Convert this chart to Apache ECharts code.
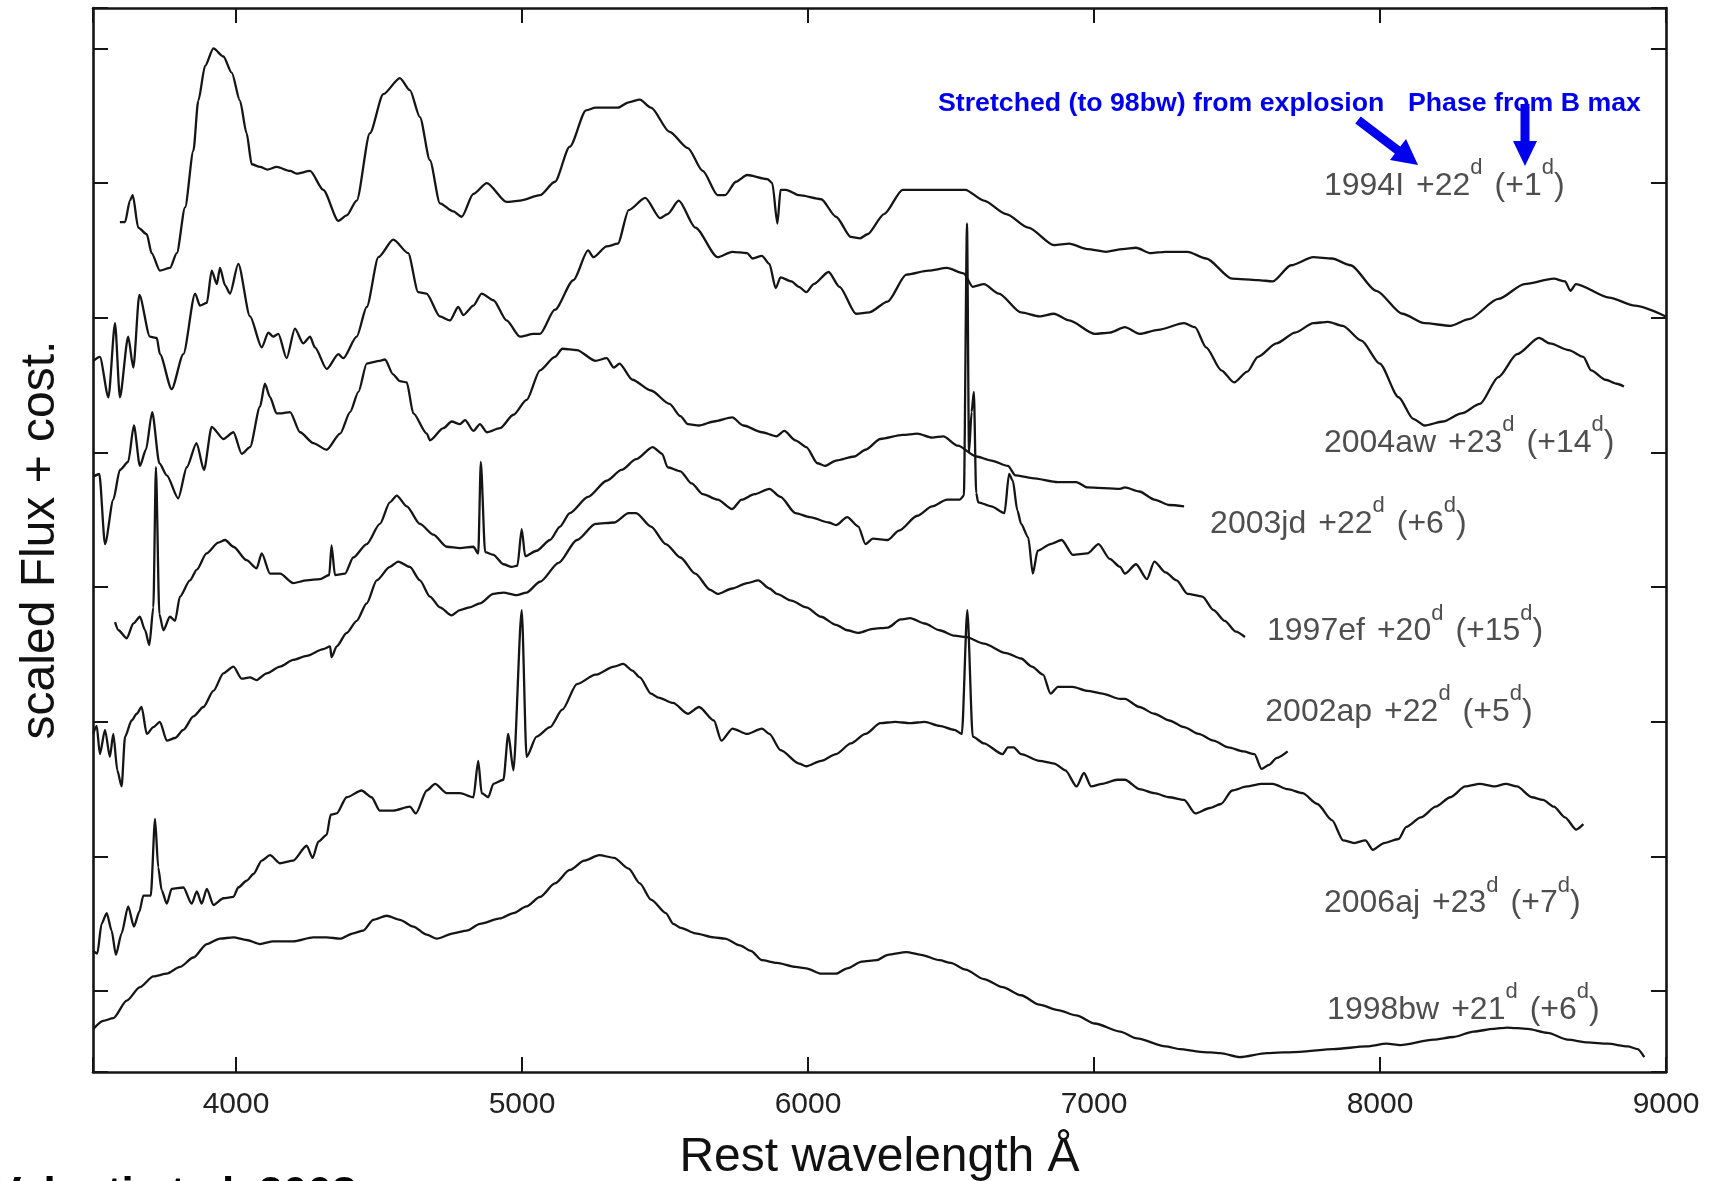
<!DOCTYPE html>
<html>
<head>
<meta charset="utf-8">
<script src="https://cdn.jsdelivr.net/npm/echarts@6/dist/echarts.min.js"></script>
<style>
html,body{margin:0;padding:0;background:#fff;}
#chart{width:1719px;height:1181px;}
</style>
</head>
<body>
<div id="chart"></div>
<script>
// ---- spectra: [rest wavelength (Å), scaled flux + constant] ----
const sn1994I = [[3594,5.71],[3612,5.71],[3629,5.87],[3639,5.91],[3658,5.67],[3688,5.62],[3705,5.48],[3734,5.35],[3769,5.37],[3793,5.48],[3822,5.82],[3851,6.24],[3868,6.61],[3892,6.87],[3921,7.0],[3956,6.94],[3985,6.82],[4014,6.61],[4037,6.37],[4055,6.14],[4084,6.12],[4110,6.10],[4142,6.12],[4189,6.09],[4212,6.07],[4259,6.09],[4305,5.95],[4358,5.72],[4387,5.76],[4422,5.87],[4468,6.37],[4515,6.66],[4573,6.78],[4608,6.69],[4643,6.49],[4678,6.17],[4713,5.85],[4760,5.79],[4789,5.75],[4830,5.92],[4877,6.0],[4946,5.86],[4993,5.87],[5063,5.91],[5115,6.01],[5167,6.27],[5224,6.54],[5257,6.56],[5335,6.56],[5373,6.60],[5412,6.62],[5451,6.56],[5516,6.38],[5580,6.26],[5632,6.09],[5684,5.91],[5710,5.91],[5748,6.01],[5787,6.06],[5858,6.03],[5875,6.0],[5893,5.70],[5904,5.95],[5923,5.95],[5969,5.91],[6046,5.88],[6098,5.75],[6150,5.60],[6182,5.59],[6208,5.62],[6266,5.77],[6331,5.95],[6421,5.95],[6550,5.95],[6615,5.87],[6693,5.77],[6770,5.67],[6860,5.54],[6913,5.55],[6977,5.51],[7042,5.49],[7100,5.51],[7147,5.52],[7198,5.48],[7250,5.49],[7327,5.49],[7392,5.44],[7483,5.29],[7573,5.28],[7625,5.27],[7689,5.39],[7767,5.45],[7832,5.44],[7897,5.39],[7987,5.20],[8078,5.03],[8156,4.96],[8246,4.94],[8311,4.99],[8414,5.14],[8505,5.25],[8608,5.29],[8647,5.27],[8666,5.20],[8685,5.25],[8801,5.15],[8891,5.09],[8999,5.01]];

const sn2004aw = [[3501,4.68],[3524,4.71],[3554,4.41],[3577,4.96],[3594,4.41],[3623,4.86],[3641,4.63],[3662,5.17],[3699,4.86],[3723,4.85],[3734,4.73],[3775,4.47],[3816,4.73],[3857,5.18],[3874,5.09],[3898,5.11],[3915,5.35],[3933,5.25],[3944,5.37],[3962,5.24],[3979,5.18],[4008,5.40],[4049,5.01],[4090,4.78],[4113,4.89],[4130,4.86],[4148,4.88],[4177,4.70],[4206,4.92],[4235,4.81],[4259,4.86],[4276,4.78],[4317,4.62],[4358,4.73],[4375,4.70],[4422,4.86],[4457,5.08],[4498,5.45],[4550,5.58],[4602,5.48],[4637,5.19],[4666,5.18],[4713,5.01],[4748,4.98],[4777,5.08],[4795,5.02],[4830,5.09],[4859,5.18],[4900,5.13],[4946,4.98],[4993,4.86],[5040,4.88],[5063,4.88],[5115,5.06],[5180,5.28],[5231,5.50],[5250,5.45],[5296,5.53],[5335,5.55],[5373,5.80],[5431,5.89],[5483,5.74],[5509,5.77],[5548,5.87],[5606,5.67],[5684,5.45],[5735,5.49],[5787,5.48],[5806,5.44],[5839,5.46],[5865,5.40],[5887,5.22],[5904,5.30],[5942,5.27],[5968,5.23],[5994,5.19],[6020,5.25],[6072,5.34],[6110,5.23],[6168,5.03],[6214,5.04],[6278,5.12],[6344,5.32],[6421,5.35],[6486,5.37],[6544,5.33],[6576,5.23],[6615,5.25],[6667,5.18],[6745,5.04],[6809,5.01],[6860,5.03],[6913,4.98],[7003,4.88],[7055,4.89],[7108,4.93],[7160,4.88],[7224,4.91],[7315,4.96],[7353,4.93],[7392,4.78],[7445,4.61],[7490,4.52],[7536,4.60],[7573,4.71],[7638,4.81],[7703,4.89],[7767,4.96],[7818,4.97],[7870,4.94],[7935,4.83],[7999,4.66],[8065,4.41],[8116,4.25],[8156,4.20],[8220,4.23],[8285,4.29],[8349,4.36],[8414,4.56],[8479,4.73],[8556,4.85],[8594,4.81],[8660,4.76],[8711,4.71],[8738,4.61],[8789,4.54],[8828,4.51],[8853,4.49]];

const sn2003jd = [[3501,3.82],[3522,3.84],[3542,3.32],[3571,3.65],[3594,3.87],[3623,3.93],[3643,4.20],[3664,3.90],[3685,4.02],[3707,4.30],[3732,3.92],[3758,3.83],[3798,3.66],[3828,3.89],[3862,4.07],[3888,3.87],[3915,4.19],[3956,4.10],[3991,4.15],[4020,3.99],[4049,4.04],[4084,4.34],[4101,4.51],[4119,4.41],[4142,4.29],[4159,4.29],[4189,4.30],[4224,4.15],[4270,4.07],[4317,4.02],[4364,4.14],[4399,4.30],[4428,4.45],[4457,4.66],[4503,4.68],[4521,4.69],[4549,4.58],[4573,4.53],[4597,4.52],[4620,4.29],[4667,4.14],[4678,4.09],[4725,4.18],[4754,4.23],[4783,4.21],[4801,4.24],[4830,4.16],[4853,4.21],[4877,4.15],[4923,4.18],[4970,4.28],[5016,4.39],[5063,4.61],[5115,4.71],[5141,4.77],[5192,4.76],[5257,4.68],[5296,4.70],[5321,4.63],[5341,4.66],[5386,4.54],[5451,4.46],[5516,4.36],[5554,4.27],[5580,4.21],[5619,4.20],[5671,4.23],[5735,4.26],[5774,4.20],[5839,4.15],[5890,4.12],[5917,4.16],[5956,4.09],[5994,4.04],[6033,3.92],[6059,3.90],[6098,3.94],[6162,3.97],[6201,4.02],[6253,4.10],[6331,4.13],[6382,4.14],[6434,4.11],[6473,4.12],[6524,4.05],[6589,3.97],[6641,3.94],[6699,3.90],[6725,3.83],[6783,3.81],[6874,3.78],[6938,3.78],[6977,3.74],[7091,3.73],[7108,3.74],[7159,3.71],[7211,3.65],[7263,3.61],[7315,3.60]];

const sn1997ef = [[3577,2.74],[3589,2.68],[3618,2.62],[3641,2.73],[3664,2.78],[3682,2.68],[3697,2.57],[3711,2.85],[3720,3.89],[3732,2.80],[3746,2.68],[3769,2.78],[3787,2.75],[3804,2.93],[3839,3.05],[3863,3.13],[3897,3.25],[3938,3.33],[3962,3.35],[3991,3.30],[4037,3.20],[4072,3.14],[4090,3.25],[4119,3.10],[4154,3.10],[4200,3.03],[4247,3.05],[4294,3.06],[4326,3.09],[4334,3.31],[4346,3.09],[4381,3.10],[4410,3.22],[4457,3.32],[4503,3.47],[4538,3.63],[4562,3.68],[4597,3.60],[4643,3.47],[4690,3.39],[4737,3.30],[4783,3.29],[4830,3.30],[4847,3.25],[4856,3.93],[4871,3.26],[4900,3.24],[4935,3.17],[4964,3.15],[4984,3.16],[4999,3.43],[5011,3.23],[5051,3.27],[5098,3.35],[5133,3.45],[5167,3.55],[5231,3.67],[5296,3.79],[5348,3.87],[5399,3.95],[5457,4.04],[5490,3.99],[5509,3.89],[5554,3.86],[5593,3.77],[5632,3.69],[5684,3.65],[5735,3.58],[5768,3.65],[5813,3.69],[5865,3.73],[5904,3.67],[5956,3.55],[6007,3.52],[6072,3.48],[6098,3.46],[6137,3.52],[6176,3.45],[6201,3.32],[6227,3.36],[6279,3.35],[6318,3.42],[6382,3.53],[6434,3.60],[6486,3.65],[6531,3.65],[6545,3.68],[6556,5.70],[6563,4.0],[6572,4.3],[6580,4.45],[6588,3.7],[6595,3.63],[6641,3.60],[6687,3.55],[6703,3.84],[6716,3.79],[6732,3.57],[6745,3.47],[6770,3.37],[6786,3.10],[6803,3.27],[6848,3.32],[6887,3.35],[6926,3.24],[6977,3.25],[7016,3.32],[7055,3.21],[7091,3.15],[7108,3.10],[7147,3.17],[7185,3.06],[7211,3.19],[7250,3.11],[7289,3.05],[7327,2.95],[7379,2.93],[7418,2.83],[7457,2.75],[7496,2.67],[7528,2.63]];

const sn2002ap = [[3501,1.91],[3513,1.97],[3524,1.76],[3542,1.94],[3559,1.74],[3571,1.91],[3585,1.64],[3600,1.52],[3612,1.89],[3635,2.01],[3653,2.06],[3670,2.11],[3688,1.91],[3711,1.96],[3734,2.00],[3758,1.86],[3787,1.88],[3816,1.94],[3851,2.04],[3886,2.11],[3921,2.23],[3956,2.36],[3991,2.41],[4020,2.32],[4049,2.33],[4072,2.31],[4107,2.36],[4154,2.41],[4200,2.46],[4247,2.49],[4305,2.54],[4329,2.56],[4334,2.48],[4352,2.56],[4387,2.66],[4422,2.75],[4457,2.88],[4492,3.05],[4538,3.15],[4567,3.19],[4608,3.15],[4643,3.05],[4678,2.93],[4713,2.85],[4754,2.79],[4783,2.83],[4818,2.85],[4853,2.88],[4900,2.95],[4935,2.96],[4981,2.94],[5016,2.96],[5063,3.04],[5128,3.18],[5192,3.35],[5257,3.47],[5322,3.48],[5373,3.55],[5399,3.55],[5451,3.45],[5503,3.32],[5554,3.22],[5606,3.10],[5658,2.98],[5684,2.95],[5735,2.99],[5787,3.03],[5826,3.05],[5865,2.99],[5891,2.95],[5942,2.90],[5994,2.85],[6046,2.78],[6098,2.72],[6137,2.68],[6176,2.66],[6227,2.69],[6279,2.70],[6324,2.76],[6357,2.77],[6408,2.73],[6460,2.68],[6512,2.64],[6551,2.63],[6615,2.58],[6693,2.51],[6745,2.47],[6783,2.41],[6822,2.35],[6848,2.21],[6874,2.26],[6925,2.26],[6977,2.23],[7029,2.21],[7091,2.17],[7108,2.17],[7159,2.11],[7211,2.06],[7263,2.01],[7315,1.96],[7366,1.91],[7418,1.86],[7470,1.81],[7522,1.78],[7561,1.76],[7586,1.65],[7612,1.68],[7638,1.73],[7677,1.78]];

const sn2006aj = [[3501,0.30],[3515,0.28],[3530,0.50],[3548,0.58],[3565,0.45],[3580,0.27],[3600,0.43],[3623,0.63],[3643,0.48],[3662,0.59],[3676,0.71],[3702,0.71],[3717,1.28],[3728,0.92],[3740,0.75],[3758,0.65],[3775,0.76],[3816,0.77],[3845,0.65],[3863,0.74],[3880,0.65],[3898,0.76],[3921,0.64],[3956,0.69],[3991,0.70],[4008,0.77],[4037,0.82],[4061,0.87],[4090,0.97],[4119,1.01],[4154,0.95],[4200,0.97],[4247,1.08],[4268,0.99],[4288,1.11],[4317,1.16],[4331,1.31],[4352,1.32],[4387,1.44],[4439,1.49],[4474,1.44],[4503,1.34],[4550,1.34],[4608,1.37],[4629,1.32],[4667,1.49],[4696,1.54],[4737,1.47],[4783,1.47],[4830,1.44],[4847,1.71],[4859,1.47],[4882,1.44],[4900,1.54],[4935,1.57],[4952,1.91],[4970,1.64],[4999,2.83],[5016,1.74],[5051,1.89],[5098,1.96],[5141,2.09],[5192,2.28],[5257,2.35],[5322,2.41],[5354,2.43],[5386,2.38],[5412,2.33],[5451,2.21],[5477,2.18],[5528,2.14],[5580,2.06],[5619,2.11],[5671,2.01],[5697,1.86],[5736,1.95],[5787,1.91],[5839,1.95],[5865,1.91],[5904,1.79],[5969,1.69],[5994,1.67],[6046,1.71],[6098,1.76],[6150,1.84],[6201,1.91],[6253,1.99],[6305,2.00],[6357,1.99],[6408,2.00],[6460,1.97],[6512,1.94],[6538,1.91],[6557,2.83],[6576,1.89],[6615,1.84],[6680,1.76],[6699,1.81],[6719,1.81],[6745,1.76],[6809,1.71],[6861,1.69],[6900,1.64],[6939,1.52],[6965,1.62],[6990,1.52],[7029,1.54],[7081,1.57],[7108,1.57],[7159,1.50],[7211,1.47],[7263,1.44],[7315,1.42],[7354,1.32],[7405,1.36],[7444,1.39],[7483,1.49],[7535,1.52],[7586,1.54],[7625,1.54],[7677,1.50],[7729,1.47],[7781,1.39],[7832,1.27],[7871,1.12],[7910,1.10],[7949,1.12],[7975,1.05],[8014,1.10],[8065,1.13],[8092,1.22],[8143,1.29],[8195,1.37],[8246,1.44],[8298,1.52],[8349,1.54],[8401,1.52],[8440,1.54],[8479,1.52],[8531,1.44],[8570,1.42],[8608,1.37],[8647,1.29],[8686,1.20],[8711,1.24]];

const sn1998bw = [[3501,-0.28],[3536,-0.22],[3571,-0.20],[3618,-0.07],[3664,0.03],[3711,0.11],[3758,0.13],[3804,0.18],[3851,0.25],[3898,0.35],[3944,0.39],[3991,0.40],[4037,0.38],[4084,0.35],[4130,0.37],[4200,0.37],[4270,0.40],[4317,0.40],[4364,0.39],[4410,0.43],[4445,0.45],[4480,0.53],[4527,0.56],[4573,0.53],[4620,0.48],[4667,0.42],[4702,0.39],[4760,0.43],[4807,0.45],[4853,0.50],[4923,0.54],[4970,0.58],[5016,0.63],[5063,0.70],[5115,0.80],[5167,0.90],[5218,0.97],[5270,1.01],[5322,0.99],[5373,0.91],[5412,0.80],[5451,0.68],[5503,0.58],[5529,0.50],[5555,0.47],[5606,0.43],[5671,0.40],[5710,0.39],[5762,0.34],[5800,0.30],[5839,0.23],[5891,0.21],[5956,0.18],[5994,0.17],[6046,0.13],[6098,0.13],[6137,0.17],[6188,0.22],[6240,0.23],[6279,0.27],[6344,0.29],[6395,0.27],[6460,0.23],[6499,0.21],[6551,0.16],[6615,0.09],[6680,0.03],[6745,-0.03],[6809,-0.10],[6874,-0.14],[6938,-0.18],[7003,-0.24],[7091,-0.30],[7150,-0.35],[7250,-0.41],[7300,-0.43],[7371,-0.45],[7441,-0.46],[7510,-0.49],[7604,-0.46],[7720,-0.45],[7837,-0.43],[7953,-0.41],[8023,-0.39],[8071,-0.40],[8187,-0.36],[8257,-0.34],[8327,-0.30],[8397,-0.28],[8445,-0.27],[8516,-0.28],[8586,-0.31],[8656,-0.36],[8726,-0.38],[8796,-0.39],[8866,-0.41],[8901,-0.43],[8924,-0.49]];

// ---- labels ----
const snNames    = ['1994I', '2004aw', '2003jd', '1997ef', '2002ap', '2006aj', '1998bw'];
const stretchDay = ['+22', '+23', '+22', '+20', '+22', '+23', '+21'];
const phaseDay   = ['+1', '+14', '+6', '+15', '+5', '+7', '+6'];
const labelAt    = [[7804,5.98],[7804,4.07],[7406,3.47],[7605,2.67],[7599,2.07],[7804,0.65],[7815,-0.14]];

const xTicks = [4000, 5000, 6000, 7000, 8000, 9000];

const spectra = [sn1994I, sn2004aw, sn2003jd, sn1997ef, sn2002ap, sn2006aj, sn1998bw];

const FONT = 'Liberation Sans, Arial, Helvetica, sans-serif';
const INK = '#151515';

const chart = echarts.init(document.getElementById('chart'), null, {renderer: 'canvas'});

const tickStyle = {inside: true, length: 15, lineStyle: {color: INK, width: 2}};
const lineAxis = {onZero: false, lineStyle: {color: INK, width: 2.6}};

const series = spectra.map((d, i) => ({
  name: snNames[i],
  type: 'line',
  data: d,
  showSymbol: false,
  symbol: 'none',
  smooth: 0.25,
  smoothMonotone: 'x',
  lineStyle: {color: INK, width: 2.3},
  z: 2,
  silent: true
}));

series.push({
  type: 'scatter',
  symbolSize: 0,
  silent: true,
  data: labelAt.map(p => p),
  label: {
    show: true,
    position: 'right',
    distance: 0,
    formatter: p => {
      const i = p.dataIndex;
      return `{a|${snNames[i]}}{g|}{a|${stretchDay[i]}}{s|d}{g|}{a|(${phaseDay[i]}}{s|d}{a|)}`;
    },
    rich: {
      a: {fontSize: 32, fontFamily: FONT, color: '#222', lineHeight: 58},
      g: {width: 12, height: 10},
      s: {fontSize: 22, fontFamily: FONT, color: '#222', lineHeight: 20, verticalAlign: 'top'}
    }
  },
  z: 5
});

const option = {
  backgroundColor: '#fff',
  animation: false,
  grid: {left: 93, right: 53, top: 8, bottom: 109, containLabel: false, outerBoundsMode: 'none'},
  xAxis: [
    {
      type: 'value', min: 3500, max: 9000, minInterval: 1000, maxInterval: 1000,
      position: 'bottom',
      axisLine: lineAxis, axisTick: tickStyle,
      axisLabel: {fontSize: 30, fontFamily: FONT, color: '#222', margin: 18,
        formatter: v => (xTicks.indexOf(v) >= 0 ? String(v) : '')},
      splitLine: {show: false},
      name: 'Rest wavelength Å', nameLocation: 'middle', nameGap: 62,
      nameTextStyle: {fontSize: 48, fontFamily: FONT, color: '#111'}
    },
    {
      type: 'value', min: 3500, max: 9000, minInterval: 1000, maxInterval: 1000,
      position: 'top',
      axisLine: lineAxis, axisTick: tickStyle,
      axisLabel: {show: false}, splitLine: {show: false}
    }
  ],
  yAxis: [
    {
      type: 'value', min: -0.6, max: 7.3, minInterval: 1, maxInterval: 1,
      position: 'left',
      axisLine: lineAxis, axisTick: tickStyle,
      axisLabel: {show: false}, splitLine: {show: false},
      name: 'scaled Flux + cost.', nameLocation: 'middle', nameGap: 28,
      nameTextStyle: {fontSize: 48, fontFamily: FONT, color: '#111'}
    },
    {
      type: 'value', min: -0.6, max: 7.3, minInterval: 1, maxInterval: 1,
      position: 'right',
      axisLine: lineAxis, axisTick: tickStyle,
      axisLabel: {show: false}, splitLine: {show: false}
    }
  ],
  series: series,
  graphic: [
    {type: 'text', left: 938, top: 90, z: 10,
      style: {text: 'Stretched (to 98bw) from explosion', fill: '#0000ee', font: 'bold 26.7px ' + FONT}},
    {type: 'text', left: 1408, top: 90, z: 10,
      style: {text: 'Phase from B max', fill: '#0000ee', font: 'bold 26.7px ' + FONT}},
    {type: 'line', z: 11, shape: {x1: 1358, y1: 120, x2: 1400, y2: 152},
      style: {stroke: '#0000ee', lineWidth: 9}},
    {type: 'polygon', z: 11, shape: {points: [[1418, 165], [1390, 160], [1406, 139]]},
      style: {fill: '#0000ee'}},
    {type: 'line', z: 11, shape: {x1: 1525, y1: 104, x2: 1525, y2: 143},
      style: {stroke: '#0000ee', lineWidth: 9}},
    {type: 'polygon', z: 11, shape: {points: [[1513, 141], [1537, 141], [1525, 166]]},
      style: {fill: '#0000ee'}},
    {type: 'text', left: -8, top: 1174, z: 10,
      style: {text: 'Valenti et al. 2008', fill: '#000', font: 'bold 44px ' + FONT}}
  ]
};

chart.setOption(option);
</script>
</body>
</html>
